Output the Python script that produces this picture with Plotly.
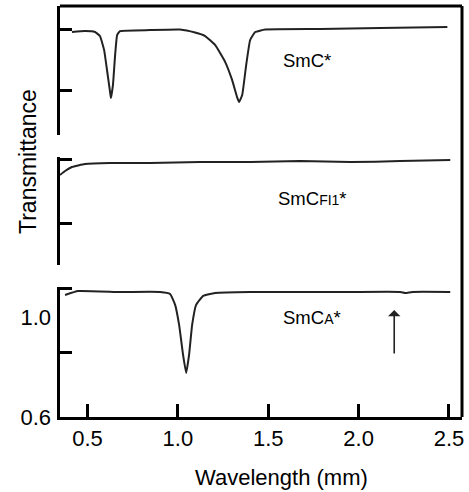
import plotly.graph_objects as go

# ---- data ----
wl_top = [0.414, 0.486, 0.542, 0.569, 0.592, 0.608, 0.625, 0.630, 0.641, 0.653, 0.664, 0.680,
          0.846, 1.012, 1.095, 1.151, 1.206, 1.262, 1.300, 1.328, 1.339, 1.356, 1.378, 1.400,
          1.428, 1.483, 1.788, 2.120, 2.491]
tr_top = [1.015, 1.019, 1.015, 0.999, 0.943, 0.862, 0.773, 0.749, 0.802, 0.923, 1.003, 1.019,
          1.023, 1.025, 1.013, 0.999, 0.963, 0.894, 0.822, 0.752, 0.733, 0.761, 0.882, 0.983,
          1.015, 1.025, 1.027, 1.031, 1.035]

wl_mid = [0.348, 0.376, 0.414, 0.486, 0.625, 0.846, 1.123, 1.400, 1.677, 1.954, 2.231, 2.507]
tr_mid = [0.963, 0.979, 0.995, 1.007, 1.011, 1.011, 1.015, 1.015, 1.019, 1.015, 1.019, 1.023]

wl_bot = [0.376, 0.448, 0.680, 0.902, 0.957, 0.985, 1.007, 1.029, 1.046, 1.062, 1.079, 1.101,
          1.140, 1.206, 1.400, 1.677, 1.954, 2.231, 2.258, 2.297, 2.507]
tr_bot = [1.092, 1.108, 1.104, 1.104, 1.096, 1.052, 0.971, 0.850, 0.777, 0.850, 0.971, 1.052,
          1.088, 1.100, 1.104, 1.104, 1.104, 1.104, 1.100, 1.104, 1.104]

x_ticks = [0.5, 1.0, 1.5, 2.0, 2.5]
x_ticktext = ["0.5", "1.0", "1.5", "2.0", "2.5"]
y_labels_val = [0.6, 1.0]
y_labels_text = ["0.6", "1.0"]
bot_tickmarks = [0.858, 1.118]
mid_tickmarks = [0.769, 1.027]
top_tickmarks = [0.781, 1.027]

phase_labels = ["SmC*", "SmC<span style='font-size:14px'>FI1</span>*",
                "SmC<span style='font-size:14px'>A</span>*"]

FONT = "Liberation Sans, Arial, sans-serif"
LC = "#222222"
LINE = dict(color=LC, width=2, shape="spline", smoothing=0.35)

fig = go.Figure()
fig.add_trace(go.Scatter(x=wl_bot, y=tr_bot, mode="lines", xaxis="x", yaxis="y", line=LINE,
                         hoverinfo="skip"))
fig.add_trace(go.Scatter(x=wl_mid, y=tr_mid, mode="lines", xaxis="x", yaxis="y2", line=LINE,
                         hoverinfo="skip"))
fig.add_trace(go.Scatter(x=wl_top, y=tr_top, mode="lines", xaxis="x", yaxis="y3", line=LINE,
                         hoverinfo="skip"))
# invisible carrier so the label axis is drawn
fig.add_trace(go.Scatter(x=[wl_bot[0]], y=[tr_bot[0]], mode="markers", xaxis="x", yaxis="y4",
                         marker=dict(opacity=0), hoverinfo="skip"))

yax_common = dict(showgrid=False, zeroline=False, showline=True, linecolor="black", linewidth=3,
                  ticks="inside", ticklen=12, tickwidth=3, tickcolor="black",
                  showticklabels=False, anchor="x", fixedrange=True)

fig.update_layout(
    width=469, height=492,
    margin=dict(l=60, r=7, t=6, b=75),
    paper_bgcolor="white", plot_bgcolor="white",
    showlegend=False,
    font=dict(family=FONT, color="black"),
    xaxis=dict(range=[0.348, 2.572], tickvals=x_ticks, ticktext=x_ticktext,
               showgrid=False, zeroline=False, showline=True, linecolor="black", linewidth=3,
               ticks="inside", ticklen=13, tickwidth=3, tickcolor="black",
               tickfont=dict(size=22, family=FONT, color="black"), anchor="y"),
    yaxis=dict(domain=[0, 0.3163], range=[0.6, 1.124], tickvals=bot_tickmarks, **yax_common),
    yaxis4=dict(overlaying="y", range=[0.6, 1.124], tickvals=y_labels_val, ticktext=y_labels_text,
                side="left", anchor="x", showgrid=False, zeroline=False, showline=False,
                ticks="", ticklabelstandoff=8, fixedrange=True,
                tickfont=dict(size=22, family=FONT, color="black")),
    yaxis2=dict(domain=[0.3698, 0.6326], range=[0.6, 1.0355], tickvals=mid_tickmarks, **yax_common),
    yaxis3=dict(domain=[0.6861, 1.0], range=[0.6, 1.120], tickvals=top_tickmarks, **yax_common),
)

# frame: top and right borders
fig.add_shape(type="line", xref="paper", yref="paper", x0=0, x1=1, y0=1, y1=1,
              line=dict(color="black", width=3))
fig.add_shape(type="line", xref="paper", yref="paper", x0=1, x1=1, y0=0, y1=1,
              line=dict(color="black", width=3))

# phase labels
fig.add_annotation(x=1.716, y=0.902, xref="x", yref="y3", text=phase_labels[0], showarrow=False,
                   font=dict(size=18.5, family=FONT, color="black"))
fig.add_annotation(x=1.743, y=0.867, xref="x", yref="y2", text=phase_labels[1], showarrow=False,
                   font=dict(size=18.5, family=FONT, color="black"))
fig.add_annotation(x=1.743, y=1.003, xref="x", yref="y", text=phase_labels[2], showarrow=False,
                   font=dict(size=18.5, family=FONT, color="black"))

# arrow
fig.add_annotation(x=2.197, y=1.031, ax=2.197, ay=0.850, xref="x", yref="y", axref="x", ayref="y",
                   text="", showarrow=True, arrowhead=1, arrowsize=1.3, arrowwidth=1.6,
                   arrowcolor=LC)

# axis titles
fig.add_annotation(x=-0.0796, y=0.6204, xref="paper", yref="paper", text="Transmittance",
                   textangle=-90, showarrow=False, xanchor="center", yanchor="middle",
                   font=dict(size=23, family=FONT, color="black"))
fig.add_annotation(x=0.55, y=-0.148, xref="paper", yref="paper", text="Wavelength (mm)",
                   showarrow=False, xanchor="center", yanchor="middle",
                   font=dict(size=22, family=FONT, color="black"))

fig.write_html("out.html")
